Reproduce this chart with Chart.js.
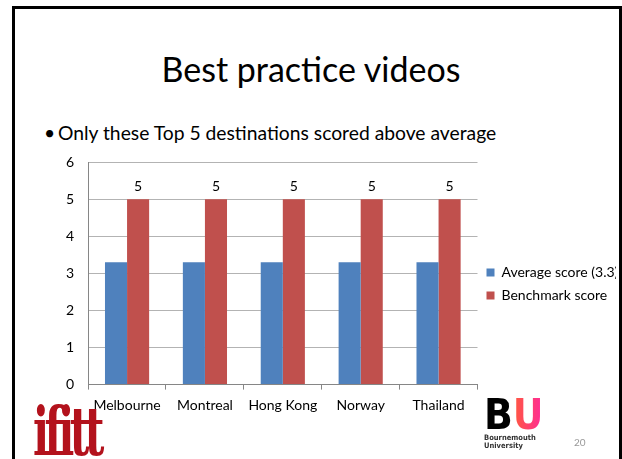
<!DOCTYPE html>
<html>
<head>
<meta charset="utf-8">
<script src="https://cdn.jsdelivr.net/npm/chart.js@4/dist/chart.umd.min.js"></script>
<style>
  html, body { margin: 0; padding: 0; background: #fff; }
  body { width: 622px; height: 459px; position: relative; overflow: hidden; font-family: Lato, sans-serif; }
  .frame { position: absolute; left: 12px; top: 6px; width: 604px; height: 470px; border: 3px solid #000; }
  .title { position: absolute; left: 0; width: 622px; top: 48px; text-align: center; font-size: 34px; color: #000; }
  .bullet { position: absolute; left: 44px; top: 121px; font-size: 19.3px; color: #000; }
  .bullet span { display: inline-block; width: 14px; }
  .chartBox { position: absolute; left: 40px; top: 147px; width: 640px; height: 274px; }
  .chartBox canvas { display: block; }
  .ifitt { position: absolute; left: 33px; top: 392px; font-family: "DejaVu Serif Condensed", "DejaVu Serif", serif; font-weight: bold; font-size: 62px; line-height: 72px; color: #b3121c; letter-spacing: -6px; transform: scale(0.76, 1.1); transform-origin: left top; }
  .bu { position: absolute; left: 484px; top: 396px; }
  .bu .bu-b { font-family: "DejaVu Sans", sans-serif; font-weight: bold; font-size: 42px; line-height: 38px; color: #000; }
  .bu .bu-u { font-family: "DejaVu Sans", sans-serif; font-weight: bold; font-size: 42px; line-height: 38px; background: linear-gradient(90deg, #ff5a3c, #ff2a9a); -webkit-background-clip: text; color: transparent; }
  .bu .bu-t { font-family: "Liberation Sans Narrow", "DejaVu Sans Condensed", sans-serif; font-size: 7.5px; line-height: 8px; color: #333; font-weight: bold; }
  .bu-wrap { display: inline-block; transform: scaleX(0.9); transform-origin: left top; }
  .page { position: absolute; left: 574px; top: 436px; font-size: 10px; color: #999; }
</style>
</head>
<body>
<div class="frame"></div>
<div class="title">Best practice videos</div>
<div class="bullet"><span>•</span>Only these Top 5 destinations scored above average</div>
<div class="chartBox"><canvas id="chart" width="640" height="274"></canvas></div>
<div class="ifitt">ifitt</div>
<div class="bu"><div class="bu-wrap"><span class="bu-b">B</span><span class="bu-u">U</span></div><div class="bu-t">Bournemouth<br>University</div></div>
<div class="page">20</div>
<script>
const destinations = ['Melbourne', 'Montreal', 'Hong Kong', 'Norway', 'Thailand'];
const averageScore = [3.3, 3.3, 3.3, 3.3, 3.3];
const benchmarkScore = [5, 5, 5, 5, 5];
const yTicks = [0, 1, 2, 3, 4, 5, 6];

// labels above the benchmark bars
const barLabels = {
  id: 'barLabels',
  afterDatasetsDraw(chart) {
    const ctx = chart.ctx;
    const meta = chart.getDatasetMeta(1);
    ctx.save();
    ctx.font = '14px Lato, sans-serif';
    ctx.fillStyle = '#000';
    ctx.textAlign = 'center';
    ctx.textBaseline = 'middle';
    meta.data.forEach((bar, i) => {
      ctx.fillText(String(benchmarkScore[i]), bar.x, bar.y - 13);
    });
    ctx.restore();
  }
};

new Chart(document.getElementById('chart'), {
  type: 'bar',
  data: {
    labels: destinations,
    datasets: [
      { label: 'Average score (3.3)', data: averageScore, backgroundColor: '#4f81bd' },
      { label: 'Benchmark score', data: benchmarkScore, backgroundColor: '#c0504d' }
    ]
  },
  options: {
    responsive: false,
    animation: false,
    maintainAspectRatio: false,
    layout: { padding: { top: 0, bottom: 0, left: 22, right: 64 } },
    categoryPercentage: 0.567,
    barPercentage: 1,
    plugins: {
      tooltip: { enabled: false },
      legend: {
        position: 'right',
        labels: {
          boxWidth: 8, boxHeight: 8, padding: 9,
          color: '#000',
          font: { family: 'Lato, sans-serif', size: 14 }
        }
      }
    },
    scales: {
      x: {
        grid: { drawOnChartArea: false, drawTicks: true, tickLength: 5, color: '#868686', offset: true },
        border: { color: '#868686' },
        ticks: { color: '#000', padding: 7.3, maxRotation: 0, font: { family: 'Lato, sans-serif', size: 14 } }
      },
      y: {
        min: 0, max: 6,
        afterBuildTicks(axis) { axis.ticks = yTicks.map(v => ({ value: v })); },
        grid: { color: '#b3b3b3', drawTicks: true, tickLength: 10, tickColor: 'rgba(0,0,0,0)' },
        border: { color: '#868686' },
        ticks: { color: '#000', padding: 4, font: { family: 'Lato, sans-serif', size: 14, lineHeight: 1.6 } }
      }
    }
  },
  plugins: [barLabels]
});
</script>
</body>
</html>
